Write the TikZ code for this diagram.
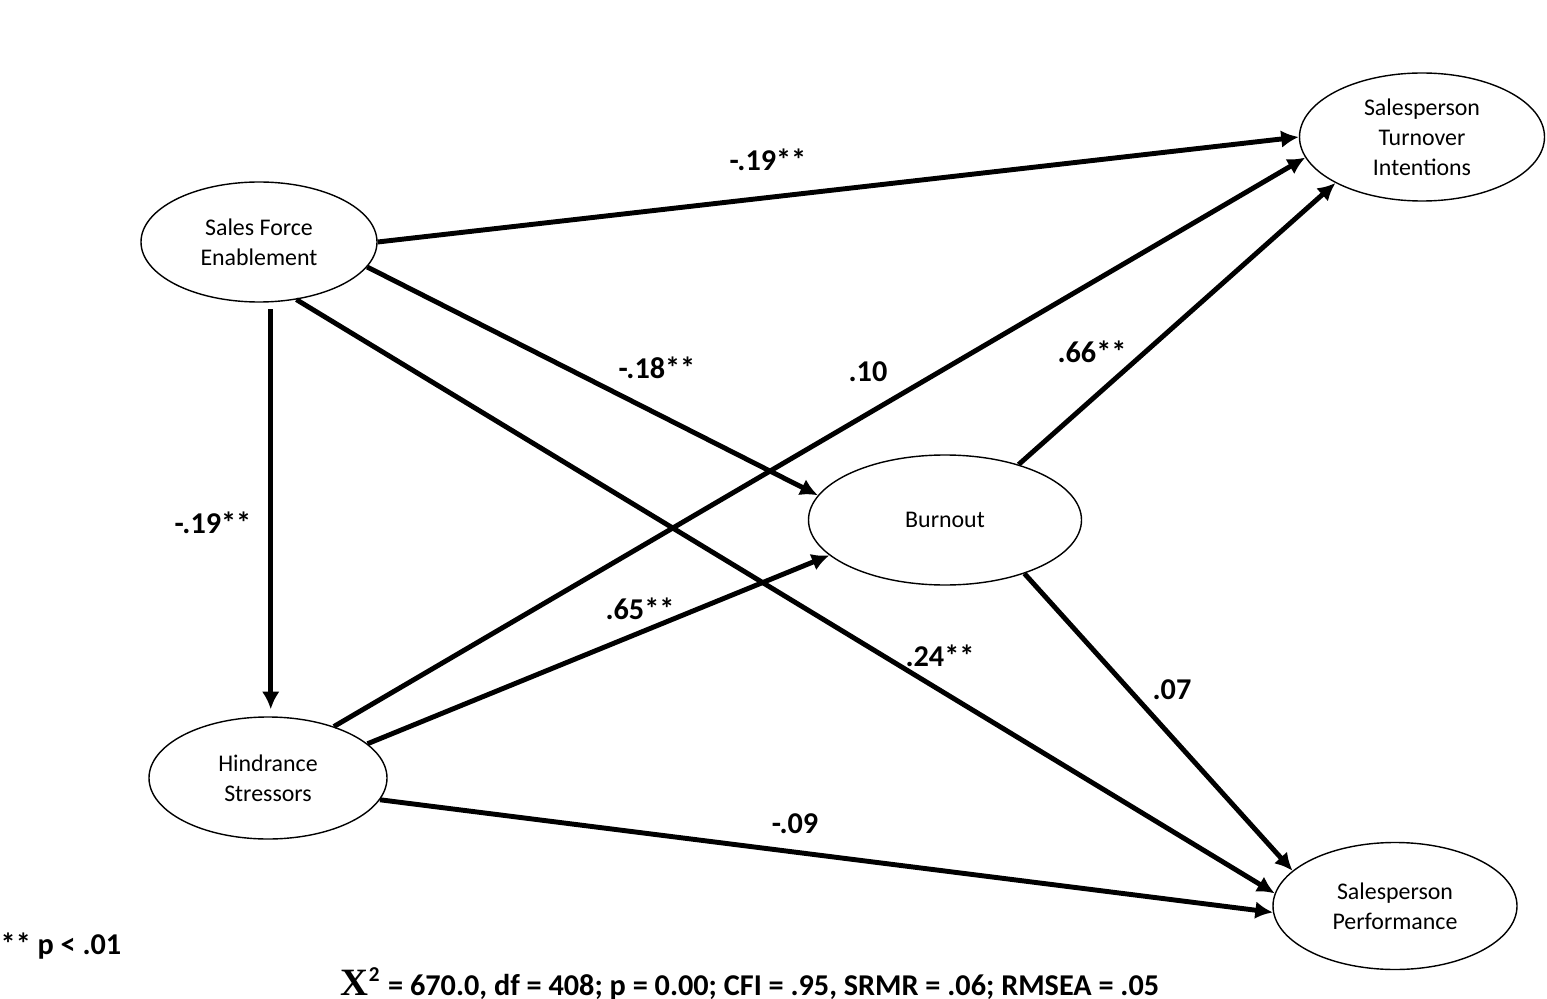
\documentclass[tikz,border=0pt]{standalone}
\usepackage{fontspec}
\setmainfont{Carlito}
\newfontfamily\serifx{Liberation Serif}
\usetikzlibrary{arrows.meta,shapes.geometric}

\begin{document}
\begin{tikzpicture}
        [latent/.style={ellipse,draw,thin,inner sep=0pt,align=center,font=\fontsize{6.8}{8.5}\selectfont},
        path/.style={line width=1.4pt,-{Latex[length=5pt,width=5pt]}},
        coef/.style={font=\fontsize{8.6}{10}\selectfont\bfseries}]
        \useasboundingbox (0,0) rectangle (15.47,-9.99);

        \node[latent, minimum width=2.36cm, minimum height=1.20cm] (SFE) at (2.59,-2.42) {Sales Force\\Enablement};
        \node[latent, minimum width=2.38cm, minimum height=1.22cm] (HS) at (2.68,-7.78) {Hindrance\\Stressors};
        \node[latent, minimum width=2.73cm, minimum height=1.30cm] (BO) at (9.45,-5.20) {Burnout};
        \node[latent, minimum width=2.45cm, minimum height=1.28cm] (TI) at (14.22,-1.37) {Salesperson\\Turnover\\Intentions};
        \node[latent, minimum width=2.44cm, minimum height=1.27cm] (SP) at (13.95,-9.06) {Salesperson\\Performance};

        \draw[path] (SFE.east) -- (TI.west);
        \draw[path] (SFE.-13) -- (BO.169);
        \draw[path] (SFE.-57) -- (SP.174);
        \draw[path, shorten <=2pt, shorten >=2pt] (SFE.-79) -- (SFE.-79 |- HS.north);

        \draw[path] (HS.38) -- (TI.190);
        \draw[path] (HS.19) -- (BO.197);
        \draw[path] (HS.-11) -- (SP.183);

        \draw[path] (BO.37) -- (TI.208);
        \draw[path] (BO.-34) -- (SP.161);

        % path coefficients
        \node[coef] (c1) at (7.68,-1.60) {-.19**};
        \node[coef] (c2) at (6.57,-3.68) {-.18**};
        \node[coef] (c3) at (9.40,-6.56) {.24**};
        \node[coef] (c4) at (2.13,-5.23) {-.19**};
        \node[coef] (c5) at (8.68,-3.72) {.10};
        \node[coef] (c6) at (6.40,-6.09) {.65**};
        \node[coef] (c7) at (7.95,-8.24) {-.09};
        \node[coef] (c8) at (10.92,-3.52) {.66**};
        \node[coef] (c9) at (11.72,-6.90) {.07};

        \node[coef, anchor=west, inner sep=0pt] (note) at (0,-9.46) {** p < .01};
        \node[coef] (fit) at (7.50,-9.84) {{\serifx\fontsize{11}{12}\selectfont X}\textsuperscript{2} = 670.0, df = 408; p = 0.00; CFI = .95, SRMR = .06; RMSEA = .05};
\end{tikzpicture}
\end{document}
